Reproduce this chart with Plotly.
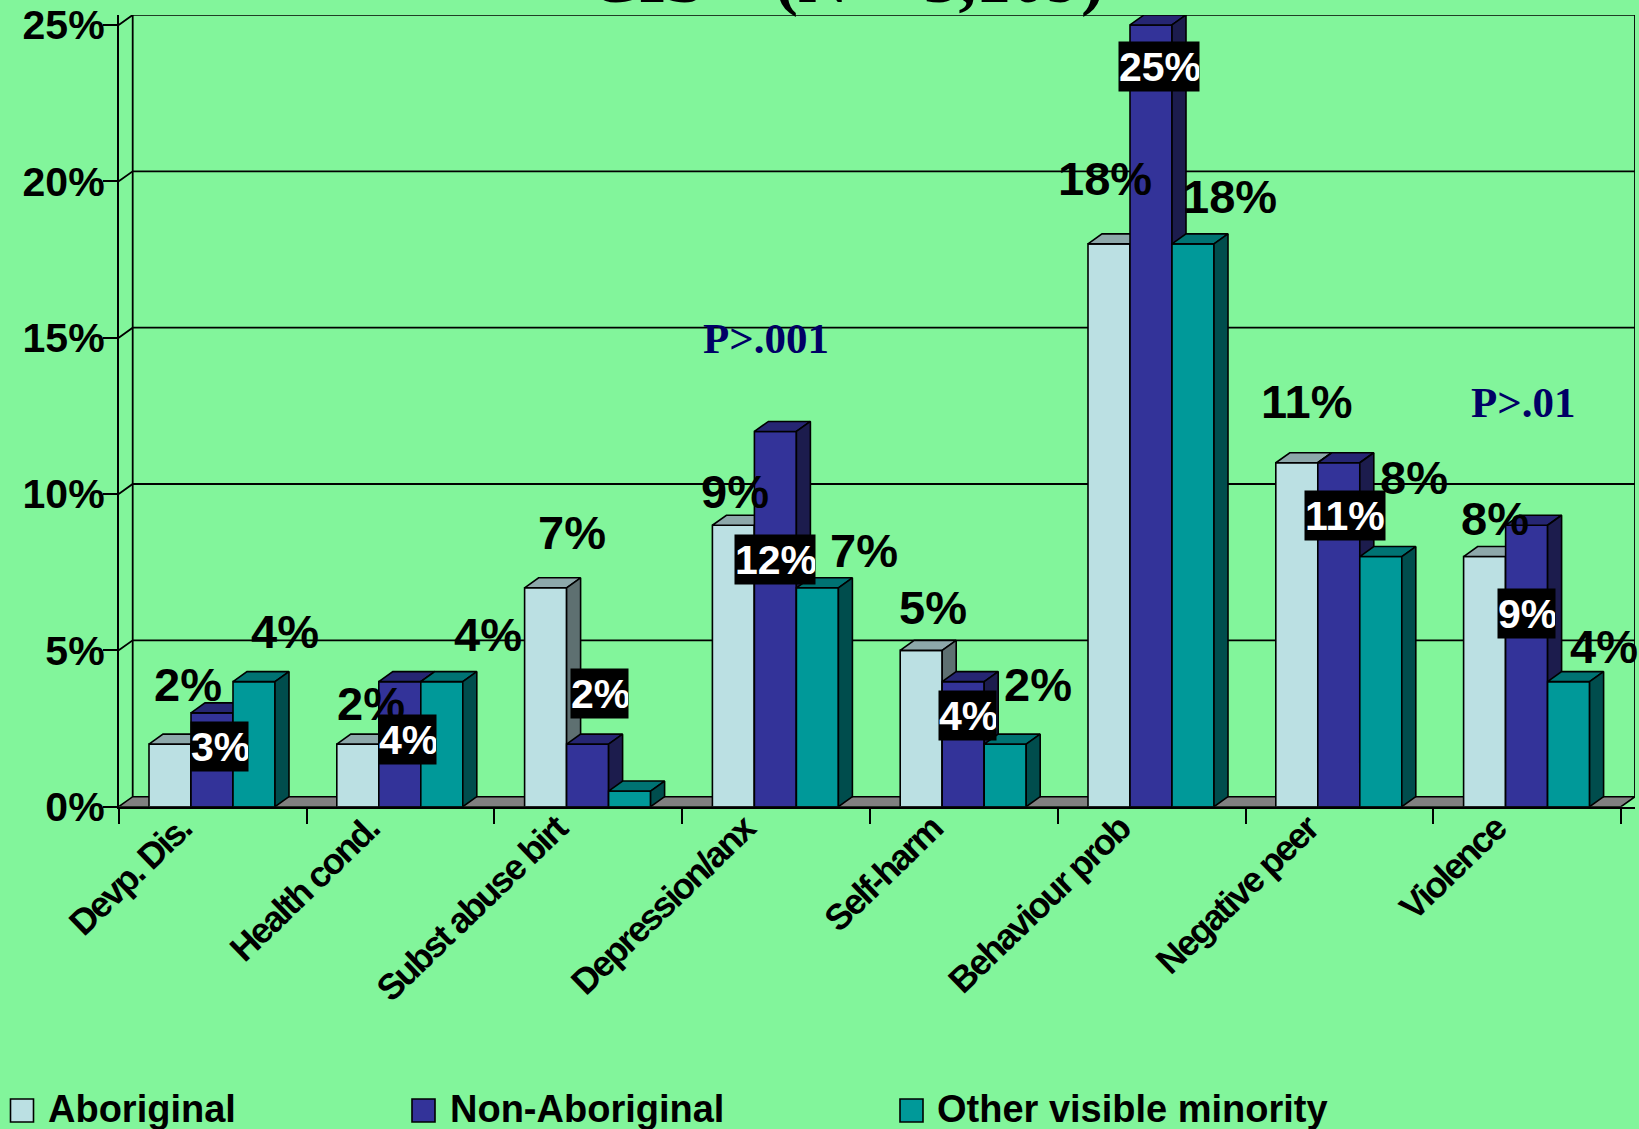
import plotly.graph_objects as go

# Chart data
categories = ["Devp. Dis.", "Health cond.", "Subst abuse birt", "Depression/anx",
              "Self-harm", "Behaviour prob", "Negative peer", "Violence"]
aboriginal = [2, 2, 7, 9, 5, 18, 11, 8]
non_aboriginal = [3, 4, 2, 12, 4, 25, 11, 9]
other_minority = [4, 4, 0.5, 7, 2, 18, 8, 4]
other_labelled = [True, True, False, True, True, True, True, True]
y_ticks = [0, 5, 10, 15, 20, 25]

# Page and plot geometry, in pixels
W, H = 1639, 1129
LEFT, RIGHT_BACK, TOP_BACK, ZERO = 118.7, 1635.0, 15.0, 806.7
CAT_PX, PCT_PX = 187.8, 31.27
DEPTH_X_PX, DEPTH_Y_PX = 14.0, 10.0
DX, DY = DEPTH_X_PX / CAT_PX, DEPTH_Y_PX / PCT_PX
BAR_W = 42.0 / CAT_PX
BAR_START = 30.3 / CAT_PX - 0.5
X0, X1 = -0.5, (RIGHT_BACK - LEFT) / CAT_PX - 0.5
Y1 = (ZERO - TOP_BACK) / PCT_PX
positions = list(range(len(categories)))

BG = "#82F59B"
INK = "#000000"
FLOOR = "#808080"

# front, top and side face colours per series
series = [
    ("Aboriginal", aboriginal, "#BBE0E3", "#8DA8AA", "#5E7071", "y2"),
    ("Non-Aboriginal", non_aboriginal, "#333399", "#262673", "#1C1C4D", "y3"),
    ("Other visible minority", other_minority, "#009999", "#007373", "#004D4D", "y4"),
]

# Label placement relative to the top centre of each bar: px right, px up
aboriginal_offsets = [(18, 60), (13, 41), (26, 55), (2, 34), (12, 43), (-4, 65), (10, 61), (10, 38)]
non_aboriginal_offsets = [(7, -34), (8, -58), (12, 51), (0, -128), (4, -34), (8, -42), (6, -53), (0, -88)]
other_offsets = [(31, 50), (46, 47), (0, 0), (47, 37), (33, 60), (37, 47), (33, 79), (35, 35)]

fig = go.Figure()


def poly(xs, ys, fill, yaxis="y"):
    fig.add_trace(go.Scatter(
        x=xs, y=ys, mode="lines", fill="toself", fillcolor=fill,
        line=dict(color=INK, width=1.6), yaxis=yaxis, xaxis="x",
        showlegend=False, hoverinfo="skip", cliponaxis=False,
    ))


def wire(xs, ys, width=1.8):
    fig.add_trace(go.Scatter(
        x=xs, y=ys, mode="lines", line=dict(color=INK, width=width),
        showlegend=False, hoverinfo="skip", cliponaxis=False,
    ))


# Floor of the box
poly([X0, X0 + DX, X1, X1 - DX, X0], [0, DY, DY, 0, 0], FLOOR)

# Back wall gridlines, with the short diagonal on the left wall
for t in y_ticks[1:]:
    wire([X0, X0 + DX, X1], [t, t + DY, t + DY])
wire([X0 + DX, X0 + DX], [DY, Y1])
wire([X1, X1], [DY, Y1])

# One overlaid axis per series, so that each series paints over the previous one
for s, (name, values, front, top, side, yaxis) in enumerate(series):
    offset = BAR_START + s * BAR_W
    fig.add_trace(go.Bar(
        x=positions, y=values, name=name, width=BAR_W, offset=offset,
        customdata=categories,
        marker=dict(color=front, line=dict(color=INK, width=1.6)),
        yaxis=yaxis, xaxis="x", showlegend=False, cliponaxis=False,
        hovertemplate="%{customdata}<br>" + name + ": %{y}%<extra></extra>",
    ))
    for i, v in enumerate(values):
        xl = i + offset
        xr = xl + BAR_W
        poly([xl, xl + DX, xr + DX, xr, xl], [v, v + DY, v + DY, v, v], top, yaxis)
        poly([xr, xr + DX, xr + DX, xr, xr], [0, DY, v + DY, v, 0], side, yaxis)

# Value labels
for i, v in enumerate(aboriginal):
    dx, up = aboriginal_offsets[i]
    fig.add_annotation(
        x=i + BAR_START + 0.5 * BAR_W, y=v, xref="x", yref="y", xshift=dx, yshift=up,
        text=f"{v}%", showarrow=False, xanchor="center", yanchor="middle",
        font=dict(family="Liberation Sans", size=47, color=INK, weight="bold"),
    )
for i, v in enumerate(other_minority):
    if not other_labelled[i]:
        continue
    dx, up = other_offsets[i]
    fig.add_annotation(
        x=i + BAR_START + 2.5 * BAR_W, y=v, xref="x", yref="y", xshift=dx, yshift=up,
        text=f"{v}%", showarrow=False, xanchor="center", yanchor="middle",
        font=dict(family="Liberation Sans", size=47, color=INK, weight="bold"),
    )
for i, v in enumerate(non_aboriginal):
    dx, up = non_aboriginal_offsets[i]
    fig.add_annotation(
        x=i + BAR_START + 1.5 * BAR_W, y=v, xref="x", yref="y", xshift=dx, yshift=up,
        text=f"{v}%", showarrow=False, xanchor="center", yanchor="middle",
        width=80 if v >= 10 else 57, height=49, align="left", borderpad=0,
        bgcolor=INK,
        font=dict(family="Liberation Sans", size=41, color="#FFFFFF", weight="bold"),
    )


def px_x(x):
    return x / W


def px_y(y):
    return 1 - y / H


# Significance notes
for text, cx, cy in [("P&gt;.001", 766, 338), ("P&gt;.01", 1523, 402)]:
    fig.add_annotation(
        x=px_x(cx), y=px_y(cy), xref="paper", yref="paper", text=text, showarrow=False,
        xanchor="center", yanchor="middle",
        font=dict(family="Liberation Serif", size=43, color="#000066", weight="bold"),
    )

# Heading, running off the top of the page
fig.add_annotation(
    x=px_x(846), y=px_y(19), xref="paper", yref="paper", text="CIS    (N = 5,109)",
    showarrow=False, xanchor="center", yanchor="bottom",
    font=dict(family="Liberation Serif", size=70, color=INK, weight="bold"),
)

# Legend row
for (name, _, front, _t, _s, _y), sx, tx in zip(series, [10.5, 412, 900], [46, 448, 935]):
    fig.add_shape(
        type="rect", xref="paper", yref="paper",
        x0=px_x(sx), x1=px_x(sx + 23), y0=px_y(1122), y1=px_y(1099),
        fillcolor=front, line=dict(color=INK, width=1.6),
    )
    fig.add_annotation(
        x=px_x(tx), y=px_y(1109), xref="paper", yref="paper", text=name, showarrow=False,
        xanchor="left", yanchor="middle",
        font=dict(family="Liberation Sans", size=38, color=INK, weight="bold"),
    )

axis_y = dict(range=[0, Y1], domain=[1 - ZERO / H, 1 - TOP_BACK / H],
              showgrid=False, zeroline=False, automargin=False)
fig.update_layout(
    width=W, height=H, margin=dict(l=0, r=0, t=0, b=0, pad=0),
    paper_bgcolor=BG, plot_bgcolor=BG, showlegend=False, template=None,
    xaxis=dict(
        type="linear", tickmode="array", tickvals=positions, ticktext=categories,
        range=[X0, X1], domain=[LEFT / W, RIGHT_BACK / W], automargin=False,
        showgrid=False, zeroline=False, showline=True, linecolor=INK, linewidth=2,
        ticks="", tickangle=-44, ticklabelshift=-32, ticklabelstandoff=-15,
        minor=dict(tickmode="array", tickvals=[p - 0.5 for p in positions] + [positions[-1] + 0.5],
                   ticks="outside", ticklen=15, tickwidth=1.8, tickcolor=INK, showgrid=False),
        tickfont=dict(family="Liberation Sans", size=36, color=INK, weight="bold"),
    ),
    yaxis=dict(
        **axis_y, tickmode="array", tickvals=y_ticks, ticktext=[f"{t}%" for t in y_ticks],
        showline=True, linecolor=INK, linewidth=1.8,
        ticks="outside", ticklen=14, tickwidth=1.8, tickcolor=INK,
        ticklabelstandoff=-10,
        tickfont=dict(family="Liberation Sans", size=41, color=INK, weight="bold"),
    ),
    yaxis2=dict(**axis_y, overlaying="y", visible=False),
    yaxis3=dict(**axis_y, overlaying="y", visible=False),
    yaxis4=dict(**axis_y, overlaying="y", visible=False),
)

# Tighten the tracking of the category names
tracking = """
document.querySelectorAll('.xtick text').forEach(t => t.style.letterSpacing = '-2.2px');
"""
fig.write_html("out.html", post_script=tracking)
